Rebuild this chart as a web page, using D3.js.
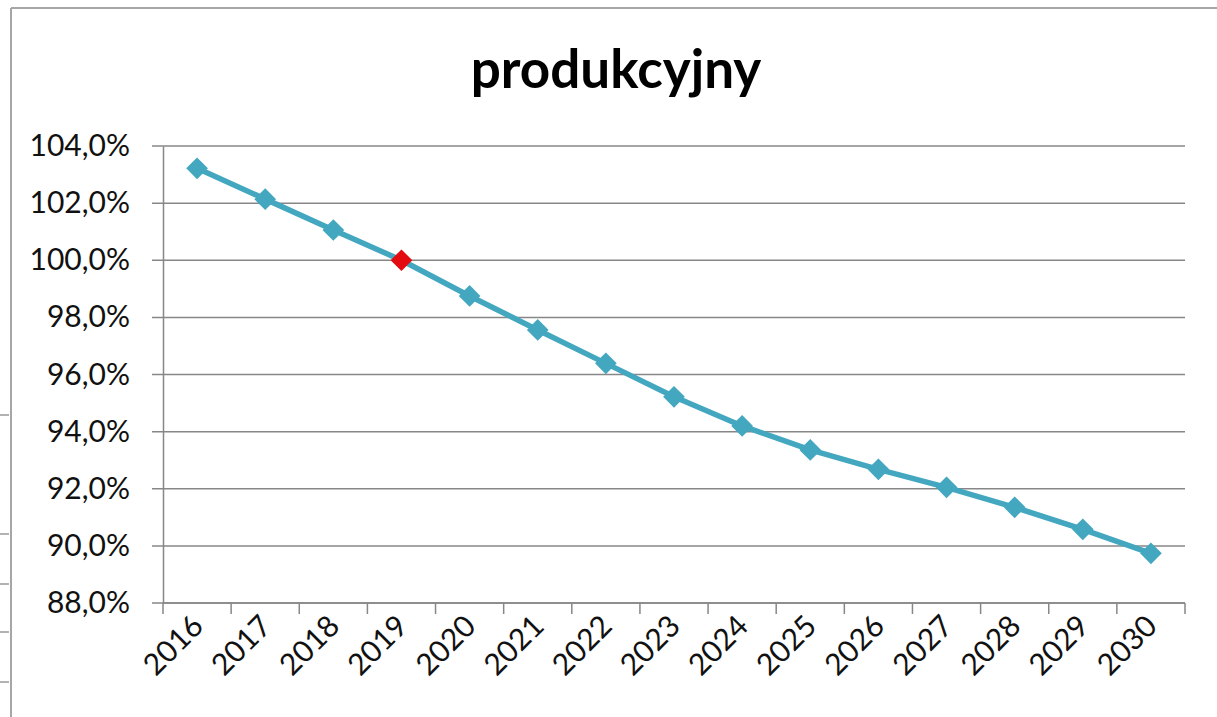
<!DOCTYPE html>
<html><head><meta charset="utf-8">
<script src="https://cdn.jsdelivr.net/npm/d3@7"></script>
<style>body{margin:0;background:#fff}svg{display:block}</style>
</head><body>
<script>
const title = "produkcyjny";
const years = ["2016","2017","2018","2019","2020","2021","2022","2023","2024","2025","2026","2027","2028","2029","2030"];
const values = [103.22,102.14,101.06,100.0,98.75,97.56,96.39,95.22,94.2,93.36,92.68,92.05,91.35,90.58,89.74];
const highlightYear = "2019";
const yTicks = [88,90,92,94,96,98,100,102,104];
const bgTickY = [415,534,584,632,682];

const W = 1217, H = 717;
const svg = d3.select("body").append("svg").attr("width", W).attr("height", H);
const font = "Lato, 'Open Sans', sans-serif";

// outer chart border
svg.append("line").attr("x1",11).attr("x2",W).attr("y1",8).attr("y2",8).attr("stroke","#a6a6a6").attr("stroke-width",2);
svg.append("line").attr("x1",11).attr("x2",11).attr("y1",8).attr("y2",H).attr("stroke","#a6a6a6").attr("stroke-width",2);
svg.selectAll("line.bg").data(bgTickY).enter().append("line").attr("class","bg")
  .attr("x1",0).attr("x2",9).attr("y1",d=>d).attr("y2",d=>d).attr("stroke","#999").attr("stroke-width",1.5);

const x = d3.scaleBand().domain(years).range([163,1185]);
const y = d3.scaleLinear().domain([88,104]).range([603,146]);

// gridlines
svg.append("g").selectAll("line").data(yTicks).enter().append("line")
  .attr("x1",152).attr("x2",1185).attr("y1",d=>y(d)).attr("y2",d=>y(d))
  .attr("stroke","#878787").attr("stroke-width",1.5);

// y axis
const yAxis = d3.axisLeft(y).tickValues(yTicks).tickSize(0).tickPadding(33)
  .tickFormat(d => d3.format(".1f")(d).replace(".", ",") + "%");
const gy = svg.append("g").attr("transform","translate(163,0)").call(yAxis);
gy.select(".domain").attr("stroke","#878787").attr("stroke-width",1.5);
gy.selectAll("text").attr("font-family",font).attr("font-size",30).attr("fill","#111");

// x axis
svg.append("line").attr("x1",163).attr("x2",1185).attr("y1",603).attr("y2",603).attr("stroke","#878787").attr("stroke-width",1.5);
const bounds = years.map(d => x(d)).concat([x.range()[1]]);
svg.append("g").selectAll("line").data(bounds).enter().append("line")
  .attr("x1",d=>d).attr("x2",d=>d).attr("y1",603).attr("y2",614)
  .attr("stroke","#878787").attr("stroke-width",1.5);
svg.append("g").selectAll("text").data(years).enter().append("text")
  .attr("transform", d => `translate(${x(d)+x.bandwidth()/2+8},${628}) rotate(-45)`)
  .attr("text-anchor","end").attr("font-family",font).attr("font-size",30).attr("fill","#111")
  .text(d=>d);

// title
svg.append("text").attr("x",616).attr("y",88).attr("text-anchor","middle")
  .attr("font-family",font).attr("font-weight","bold").attr("font-size",53).attr("fill","#000").text(title);

// line
const cx = d => x(d) + x.bandwidth()/2;
const line = d3.line().x((d,i)=>cx(years[i])).y(d=>y(d));
svg.append("path").datum(values).attr("d",line).attr("fill","none")
  .attr("stroke","#43a7c0").attr("stroke-width",5.5).attr("stroke-linejoin","round");

// markers
const sym = d3.symbol().type(d3.symbolDiamond2).size(300);
svg.append("g").selectAll("path").data(values).enter().append("path")
  .attr("d", sym)
  .attr("transform",(d,i)=>`translate(${cx(years[i])},${y(d)})`)
  .attr("fill",(d,i)=>years[i]===highlightYear ? "#e40b10" : "#43a7c0");
</script>
</body></html>
